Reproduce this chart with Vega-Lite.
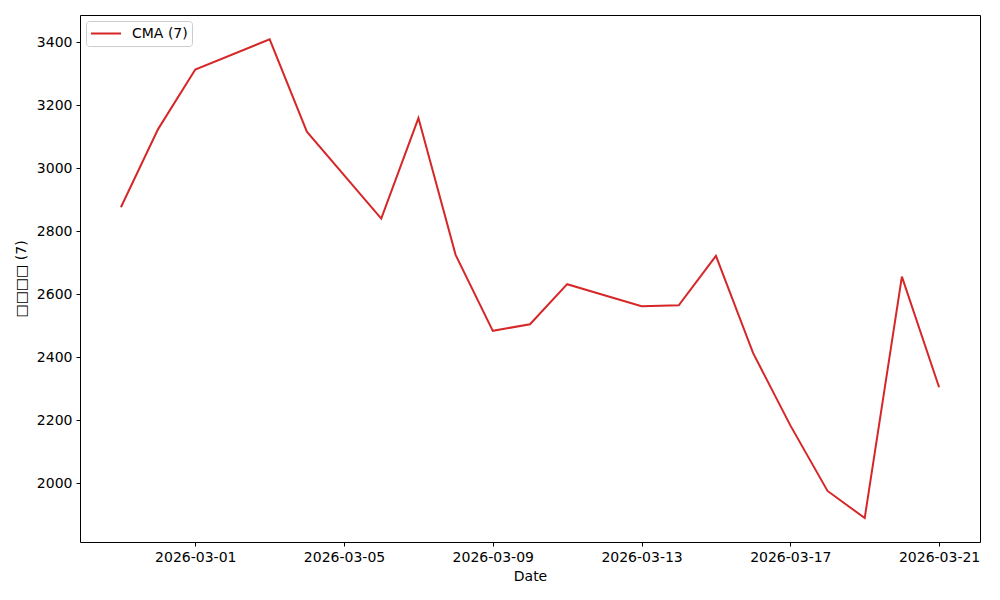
{
  "$schema": "https://vega.github.io/schema/vega-lite/v6.json",
  "autosize": {"type": "none"},
  "width": 900,
  "height": 527,
  "padding": {"left": 80, "top": 15, "right": 20, "bottom": 58},
  "background": "white",
  "config": {
    "font": "DejaVu Sans",
    "view": {"stroke": "black", "strokeWidth": 1},
    "axis": {
      "grid": false,
      "domain": false,
      "tickColor": "black",
      "tickSize": 4,
      "labelColor": "black",
      "titleColor": "black",
      "labelFontSize": 14,
      "titleFontSize": 14,
      "titleFontWeight": "normal",
      "labelPadding": 4
    }
  },
  "data": {
    "values": [
      {"date": "2026-02-27", "value": 2876, "series": "CMA (7)"},
      {"date": "2026-02-28", "value": 3124, "series": "CMA (7)"},
      {"date": "2026-03-01", "value": 3313, "series": "CMA (7)"},
      {"date": "2026-03-03", "value": 3409, "series": "CMA (7)"},
      {"date": "2026-03-04", "value": 3116, "series": "CMA (7)"},
      {"date": "2026-03-06", "value": 2840, "series": "CMA (7)"},
      {"date": "2026-03-07", "value": 3159, "series": "CMA (7)"},
      {"date": "2026-03-08", "value": 2725, "series": "CMA (7)"},
      {"date": "2026-03-09", "value": 2484, "series": "CMA (7)"},
      {"date": "2026-03-10", "value": 2505, "series": "CMA (7)"},
      {"date": "2026-03-11", "value": 2632, "series": "CMA (7)"},
      {"date": "2026-03-12", "value": 2597, "series": "CMA (7)"},
      {"date": "2026-03-13", "value": 2562, "series": "CMA (7)"},
      {"date": "2026-03-14", "value": 2565, "series": "CMA (7)"},
      {"date": "2026-03-15", "value": 2722, "series": "CMA (7)"},
      {"date": "2026-03-16", "value": 2413, "series": "CMA (7)"},
      {"date": "2026-03-17", "value": 2184, "series": "CMA (7)"},
      {"date": "2026-03-18", "value": 1976, "series": "CMA (7)"},
      {"date": "2026-03-19", "value": 1890, "series": "CMA (7)"},
      {"date": "2026-03-20", "value": 2656, "series": "CMA (7)"},
      {"date": "2026-03-21", "value": 2305, "series": "CMA (7)"}
    ]
  },
  "mark": {"type": "line", "strokeWidth": 2},
  "encoding": {
    "x": {
      "field": "date",
      "type": "temporal",
      "title": "Date",
      "scale": {
        "type": "utc",
        "domain": [
          {"year": 2026, "month": 2, "date": 25, "hours": 21, "minutes": 36, "utc": true},
          {"year": 2026, "month": 3, "date": 22, "hours": 2, "minutes": 24, "utc": true}
        ]
      },
      "axis": {
        "values": [
          {"year": 2026, "month": 3, "date": 1, "utc": true},
          {"year": 2026, "month": 3, "date": 5, "utc": true},
          {"year": 2026, "month": 3, "date": 9, "utc": true},
          {"year": 2026, "month": 3, "date": 13, "utc": true},
          {"year": 2026, "month": 3, "date": 17, "utc": true},
          {"year": 2026, "month": 3, "date": 21, "utc": true}
        ],
        "labelExpr": "utcFormat(datum.value, '%Y-%m-%d')",
        "labelAngle": 0,
        "titlePadding": 5
      }
    },
    "y": {
      "field": "value",
      "type": "quantitative",
      "title": "□□□□ (7)",
      "scale": {"domain": [1814, 3486], "nice": false, "zero": false},
      "axis": {"values": [2000, 2200, 2400, 2600, 2800, 3000, 3200, 3400], "format": "d", "titlePadding": 8}
    },
    "color": {
      "field": "series",
      "type": "nominal",
      "scale": {"range": ["#d62728"]},
      "legend": {
        "title": null,
        "orient": "top-left",
        "offset": 6,
        "padding": 4,
        "fillColor": "white",
        "strokeColor": "#cccccc",
        "cornerRadius": 3,
        "symbolType": "stroke",
        "symbolSize": 900,
        "symbolStrokeWidth": 2,
        "clipHeight": 17,
        "labelOffset": 10,
        "labelFontSize": 14,
        "labelColor": "black"
      }
    }
  }
}
